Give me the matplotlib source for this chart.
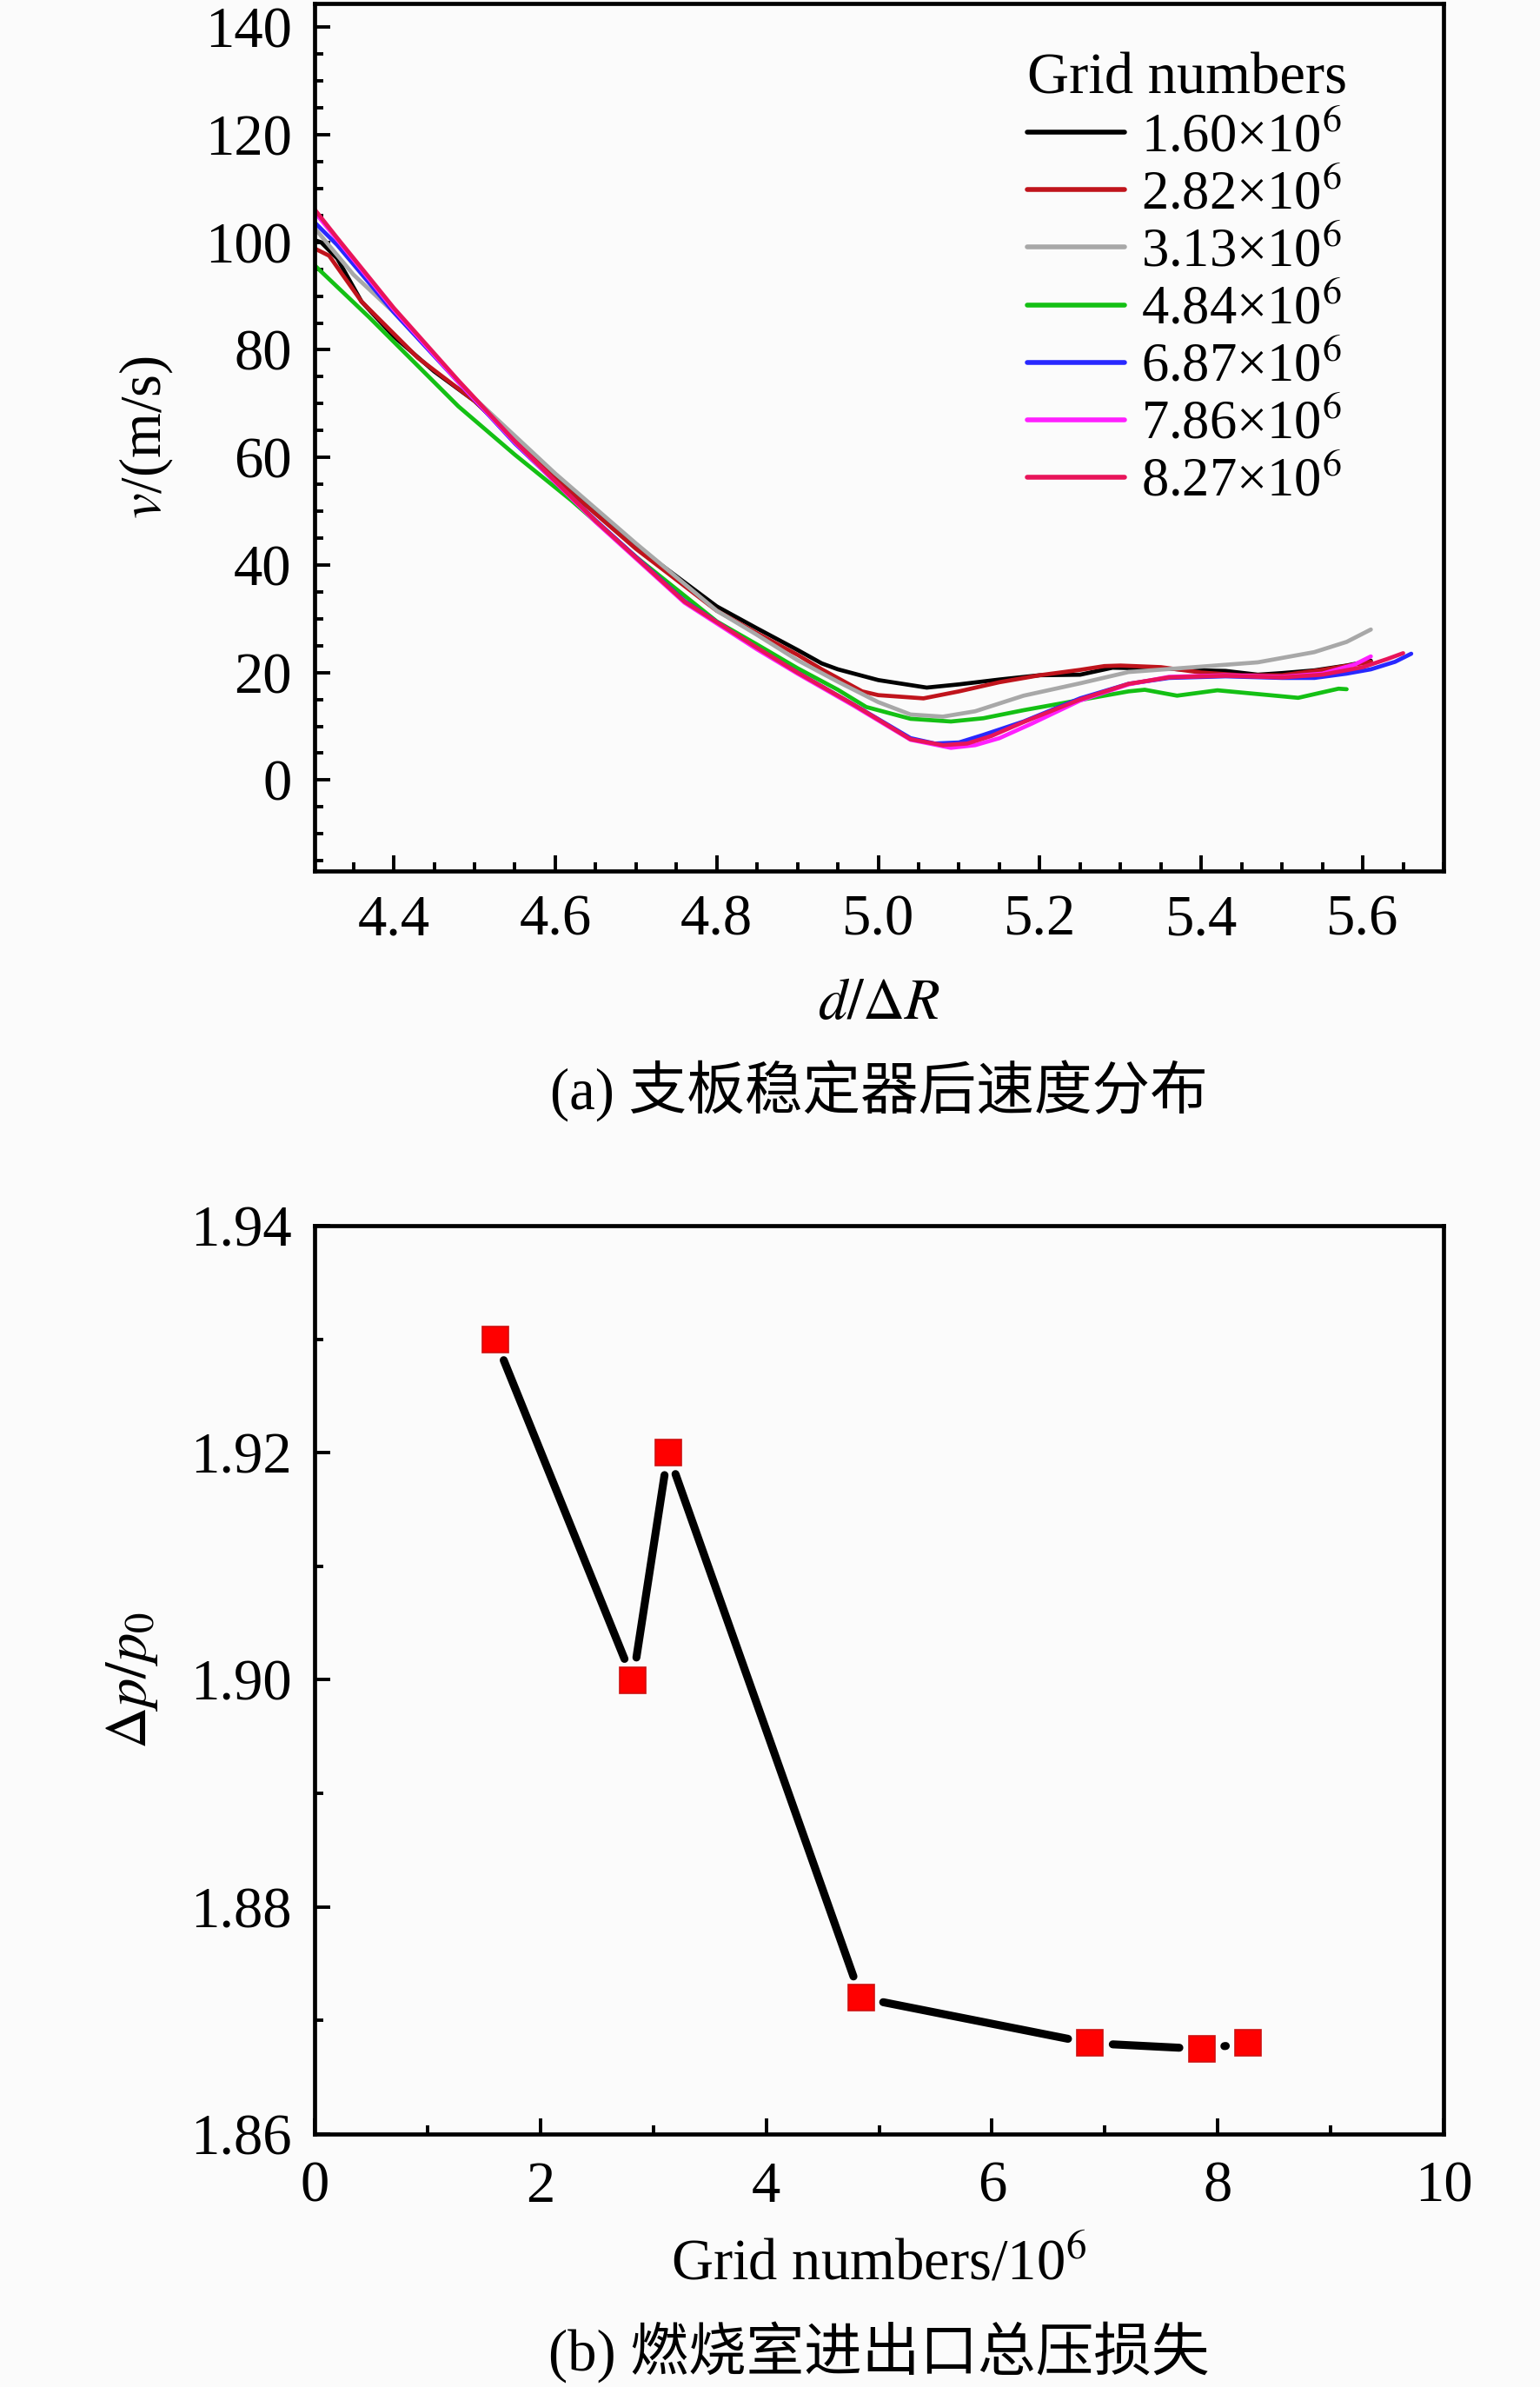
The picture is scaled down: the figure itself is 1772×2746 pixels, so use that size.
import numpy as np
import matplotlib
matplotlib.use('Agg')
import matplotlib.pyplot as plt
from matplotlib.ticker import MultipleLocator

plt.rcParams['font.family'] = ['Liberation Serif', 'Noto Sans CJK SC']
plt.rcParams['mathtext.fontset'] = 'stix'

# ---------------- data: (a) velocity profiles ----------------
series_labels = ['1.60×10$^{6}$', '2.82×10$^{6}$', '3.13×10$^{6}$', '4.84×10$^{6}$',
                 '6.87×10$^{6}$', '7.86×10$^{6}$', '8.27×10$^{6}$']
series_colors = ['#000000', '#c0141c', '#a8a8a8', '#14c014', '#2828ff', '#ff20ff', '#e8145a']

d_160 = [4.30, 4.31, 4.33, 4.36, 4.40, 4.45, 4.50, 4.60, 4.70, 4.80, 4.85, 4.90, 4.93, 4.95,
         5.00, 5.06, 5.10, 5.15, 5.20, 5.25, 5.29, 5.33, 5.36, 5.40, 5.43, 5.47, 5.50, 5.54, 5.58, 5.61]
v_160 = [100.5, 100.0, 97.0, 89.0, 82.5, 76.0, 70.5, 56.5, 43.5, 32.3, 28.2, 24.2, 21.7, 20.6,
         18.6, 17.2, 17.8, 18.7, 19.5, 19.6, 20.9, 20.8, 20.7, 20.4, 20.3, 19.6, 19.9, 20.4, 21.3, 22.2]

d_282 = [4.30, 4.32, 4.36, 4.40, 4.43, 4.50, 4.60, 4.70, 4.80, 4.85, 4.90, 4.93, 4.98, 5.00,
         5.056, 5.10, 5.15, 5.20, 5.25, 5.28, 5.30, 5.35, 5.40, 5.45, 5.50, 5.55, 5.61]
v_282 = [99.0, 97.5, 89.0, 83.0, 78.5, 70.5, 56.0, 43.0, 31.5, 27.3, 23.3, 20.6, 16.5, 15.8,
         15.2, 16.5, 18.2, 19.5, 20.5, 21.2, 21.3, 21.0, 20.0, 19.5, 19.5, 20.5, 22.0]

d_313 = [4.30, 4.35, 4.40, 4.50, 4.60, 4.70, 4.80, 4.85, 4.90, 4.95, 5.00, 5.04, 5.08, 5.12,
         5.18, 5.25, 5.31, 5.40, 5.47, 5.54, 5.58, 5.61]
v_313 = [103.0, 94.0, 87.0, 71.0, 57.0, 44.0, 31.5, 27.0, 22.3, 18.3, 14.5, 12.2, 11.8, 12.8,
         15.7, 18.0, 20.1, 21.1, 21.9, 23.8, 25.7, 28.0]

d_484 = [4.30, 4.37, 4.43, 4.48, 4.55, 4.62, 4.70, 4.80, 4.85, 4.90, 4.95, 4.985, 5.04, 5.09,
         5.13, 5.18, 5.25, 5.31, 5.33, 5.37, 5.42, 5.47, 5.52, 5.57, 5.58]
v_484 = [96.0, 86.0, 77.0, 69.5, 60.5, 52.0, 41.5, 29.5, 25.2, 20.8, 16.8, 13.6, 11.4, 10.9,
         11.5, 13.0, 14.9, 16.5, 16.8, 15.7, 16.7, 16.0, 15.3, 17.0, 16.9]

d_687 = [4.30, 4.33, 4.40, 4.48, 4.55, 4.65, 4.76, 4.85, 4.90, 4.97, 5.04, 5.07, 5.10, 5.13,
         5.18, 5.25, 5.31, 5.36, 5.43, 5.50, 5.54, 5.58, 5.61, 5.64, 5.66]
v_687 = [104.0, 99.5, 87.0, 74.0, 62.6, 48.3, 33.3, 24.5, 20.0, 14.0, 7.8, 6.8, 7.0, 8.4,
         10.9, 15.2, 17.9, 19.0, 19.3, 19.0, 19.0, 19.8, 20.6, 22.0, 23.5]

d_786 = [4.30, 4.33, 4.40, 4.48, 4.55, 4.65, 4.76, 4.85, 4.90, 4.97, 5.04, 5.09, 5.12, 5.15,
         5.19, 5.25, 5.31, 5.36, 5.43, 5.50, 5.55, 5.59, 5.61]
v_786 = [106.0, 100.5, 87.5, 74.0, 62.8, 48.0, 33.0, 24.3, 19.8, 13.8, 7.5, 6.0, 6.5, 7.8,
         10.5, 14.8, 17.8, 19.2, 19.5, 19.2, 19.8, 21.5, 23.0]

d_827 = [4.30, 4.33, 4.40, 4.48, 4.55, 4.65, 4.76, 4.85, 4.90, 4.97, 5.04, 5.08, 5.11, 5.14,
         5.18, 5.25, 5.31, 5.36, 5.43, 5.50, 5.55, 5.60, 5.63, 5.65]
v_827 = [106.5, 100.8, 87.8, 74.3, 63.0, 48.2, 33.2, 24.6, 20.0, 14.0, 7.6, 6.5, 6.8, 8.2,
         10.8, 15.0, 17.9, 19.1, 19.4, 19.1, 19.6, 21.0, 22.5, 23.6]

series_d = [d_160, d_282, d_313, d_484, d_687, d_786, d_827]
series_v = [v_160, v_282, v_313, v_484, v_687, v_786, v_827]

# ---------------- data: (b) total pressure loss ----------------
grid_numbers = [1.60, 2.82, 3.13, 4.84, 6.87, 7.86, 8.27]
pressure_loss = [1.930, 1.900, 1.920, 1.872, 1.868, 1.8675, 1.868]

# ---------------- figure ----------------
W, H = 1772, 2746
DPI = 200
BG = '#fbfbfb'
fig = plt.figure(figsize=(W / DPI, H / DPI), dpi=DPI, facecolor=BG)

ax1 = fig.add_axes([362 / W, 1 - 1002 / H, (1661 - 362) / W, (1002 - 4) / H])
ax2 = fig.add_axes([362 / W, 1 - 2455 / H, (1661 - 362) / W, (2455 - 1410) / H])

TICK_FS = 24
for ax in (ax1, ax2):
    ax.set_facecolor(BG)
    for sp in ax.spines.values():
        sp.set_linewidth(1.7)
    ax.tick_params(which='both', direction='in', top=False, right=False,
                   labelsize=TICK_FS, width=1.4)
    ax.tick_params(which='major', length=6.5)
    ax.tick_params(which='minor', length=3.6)
    ax.tick_params(axis='y', which='both', pad=9.5)
ax1.tick_params(axis='x', which='both', pad=9.5)
ax2.tick_params(axis='x', which='both', pad=11)

# ---- (a) ----
for dd, vv, lab, col in zip(series_d, series_v, series_labels, series_colors):
    ax1.plot(dd, vv, color=col, lw=1.7, label=lab, solid_capstyle='round')

ax1.set_xlim(4.302, 5.70)
ax1.set_ylim(-16.9, 144.4)
ax1.xaxis.set_minor_locator(MultipleLocator(0.05))
ax1.yaxis.set_minor_locator(MultipleLocator(5))
ax1.set_xticks(np.arange(4.4, 5.61, 0.2))
ax1.set_xticklabels(['4.4', '4.6', '4.8', '5.0', '5.2', '5.4', '5.6'])
ax1.set_yticks(np.arange(0, 141, 20))

ax1.set_xlabel(r'$d/\Delta R$', fontsize=24)
ax1.xaxis.set_label_coords(0.5, -0.1703)
ax1.xaxis.label.set_va('baseline')
ax1.set_ylabel(r'$v$/(m/s)', fontsize=24)
ax1.yaxis.set_label_coords(-0.149, 0.5)
ax1.yaxis.label.set_va('center')

leg = ax1.legend(loc='upper left', bbox_to_anchor=(0.631, 0.943), frameon=False,
                 title='Grid numbers', title_fontsize=24, fontsize=22.5,
                 borderpad=0, borderaxespad=0, handlelength=1.8, handletextpad=0.3,
                 labelspacing=0.13, alignment='left')
for ln in leg.get_lines():
    ln.set_linewidth(2.0)

# ---- (b) ----
ax2.set_xlim(0, 10)
ax2.set_ylim(1.86, 1.94)
ax2.xaxis.set_major_locator(MultipleLocator(2))
ax2.xaxis.set_minor_locator(MultipleLocator(1))
ax2.yaxis.set_major_locator(MultipleLocator(0.02))
ax2.yaxis.set_minor_locator(MultipleLocator(0.01))
ax2.yaxis.set_major_formatter(matplotlib.ticker.FormatStrFormatter('%.2f'))

GAP_PX = 26.0
pts = ax2.transData.transform(np.column_stack([grid_numbers, pressure_loss]))
inv = ax2.transData.inverted()
for p0, p1 in zip(pts[:-1], pts[1:]):
    vec = p1 - p0
    L = np.hypot(vec[0], vec[1])
    if L <= 2 * GAP_PX:
        continue
    u = vec / L
    seg = inv.transform(np.vstack([p0 + u * GAP_PX, p1 - u * GAP_PX]))
    ax2.plot(seg[:, 0], seg[:, 1], color='black', lw=3.3, solid_capstyle='round', zorder=2)

ax2.plot(grid_numbers, pressure_loss, linestyle='none', marker='s', markersize=10.5,
         markerfacecolor='#ff0000', markeredgecolor='#d01010', markeredgewidth=0.6, zorder=3)

ax2.set_xlabel('Grid numbers/10$^{6}$', fontsize=24)
ax2.xaxis.set_label_coords(0.5, -0.1598)
ax2.xaxis.label.set_va('baseline')
ax2.set_ylabel(r'$\Delta p/p_0$', fontsize=24)
ax2.yaxis.set_label_coords(-0.1617, 0.5)
ax2.yaxis.label.set_va('center')

# ---- captions ----
fig.text(1011 / W, 1 - 1255 / H, '(a) 支板稳定器后速度分布', ha='center', va='center', fontsize=24)
fig.text(1011 / W, 1 - 2706 / H, '(b) 燃烧室进出口总压损失', ha='center', va='center', fontsize=24)

fig.savefig('out.png', dpi=DPI, facecolor=BG)
